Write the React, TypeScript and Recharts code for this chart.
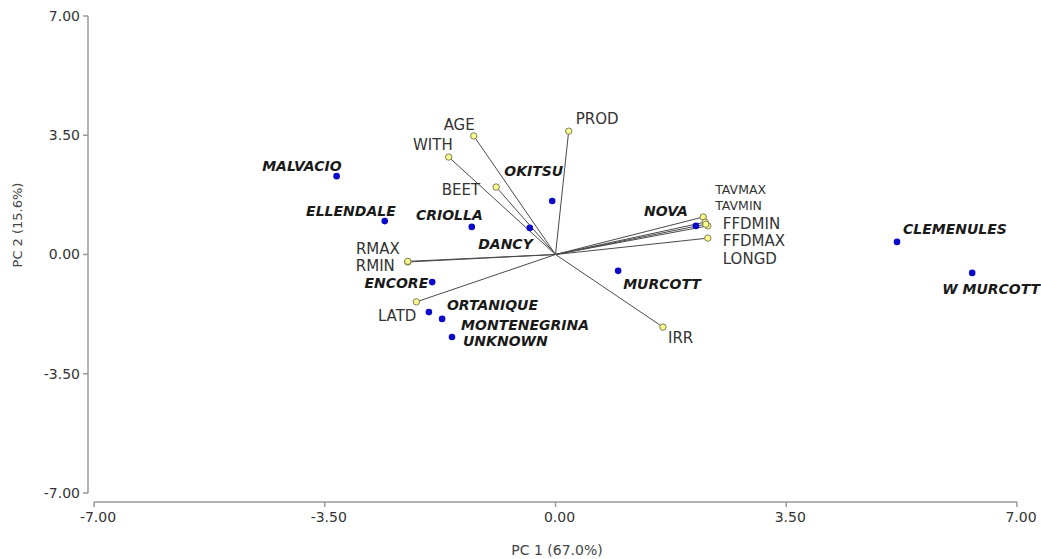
import React from 'react';
import { ScatterChart, Scatter, XAxis, YAxis, ReferenceLine } from 'recharts';

// cultivar scores
const cultivarNames = ['MALVACIO', 'ELLENDALE', 'CRIOLLA', 'DANCY', 'OKITSU', 'ENCORE', 'ORTANIQUE', 'MONTENEGRINA', 'UNKNOWN', 'NOVA', 'MURCOTT', 'CLEMENULES', 'W MURCOTT'];
const cultivarPC1 = [-3.32, -2.59, -1.27, -0.39, -0.05, -1.87, -1.92, -1.72, -1.57, 2.13, 0.95, 5.18, 6.32];
const cultivarPC2 = [2.3, 0.98, 0.81, 0.78, 1.57, -0.81, -1.69, -1.89, -2.42, 0.84, -0.48, 0.37, -0.54];

// variable loadings (vectors from origin)
const variableNames = ['AGE', 'WITH', 'BEET', 'PROD', 'RMAX', 'RMIN', 'LATD', 'IRR', 'TAVMAX', 'TAVMIN', 'FFDMIN', 'FFDMAX', 'LONGD'];
const variablePC1 = [-1.24, -1.62, -0.9, 0.2, -2.24, -2.24, -2.11, 1.63, 2.24, 2.27, 2.31, 2.28, 2.31];
const variablePC2 = [3.48, 2.86, 1.98, 3.62, -0.22, -0.2, -1.39, -2.13, 1.1, 0.95, 0.84, 0.89, 0.48];

const axisTicks = [-7, -3.5, 0, 3.5, 7];
const axisMin = -7;
const axisMax = 7;

// chart layout
const W = 1041;
const H = 559;
const MARGIN = { top: 16, right: 24, bottom: 0, left: 0 };
const Y_AXIS_W = 88;
const X_AXIS_H = 57;
const PAD_X = 6;
const PAD_Y = 9;
const plotW = W - MARGIN.left - MARGIN.right - Y_AXIS_W;
const plotH = H - MARGIN.top - MARGIN.bottom - X_AXIS_H;
// values where the (offset) axis lines sit
const yAxisLineX = axisMin - PAD_X * (axisMax - axisMin) / (plotW - PAD_X);
const xAxisLineY = axisMin - PAD_Y * (axisMax - axisMin) / (plotH - PAD_Y);

const FONT = '"DejaVu Sans", sans-serif';
const AXIS_COLOR = '#9a9a9a';

// label offsets [dx, dy, anchor, fontSize]
const labelPos: Record<string, [number, number, string, number?]> = {
  AGE: [1, -11, 'end'],
  WITH: [4, -12, 'end'],
  BEET: [-16, 3, 'end'],
  PROD: [7, -12, 'start'],
  RMAX: [-8, -13, 'end'],
  RMIN: [-13, 5, 'end'],
  LATD: [0, 14, 'end'],
  IRR: [5, 11, 'start'],
  TAVMAX: [12, -28, 'start', 12.5],
  TAVMIN: [10, -17, 'start', 12.5],
  FFDMIN: [15, -2, 'start'],
  FFDMAX: [17, 16.5, 'start'],
  LONGD: [15, 21, 'start'],
  MALVACIO: [5, -10.5, 'end'],
  ELLENDALE: [11, -10, 'end'],
  CRIOLLA: [11, -12, 'end'],
  DANCY: [3, 16.5, 'end'],
  OKITSU: [11, -30, 'end'],
  ENCORE: [-4, 0.5, 'end'],
  ORTANIQUE: [18, -7, 'start'],
  MONTENEGRINA: [19, 6, 'start'],
  UNKNOWN: [11, 4, 'start'],
  NOVA: [-8, -15, 'end'],
  MURCOTT: [5, 13.5, 'start'],
  CLEMENULES: [6, -13, 'start'],
  'W MURCOTT': [-30, 16, 'start'],
};

const cultivarData = cultivarNames.map((name, i) => ({ name, x: cultivarPC1[i], y: cultivarPC2[i] }));
const vectorData = variableNames.map((name, i) => [
  { name: '', x: 0, y: 0, origin: true },
  { name, x: variablePC1[i], y: variablePC2[i], origin: false },
]);

const CultivarDot = (props: any) => {
  const { cx, cy, payload } = props;
  const [dx, dy, anchor] = labelPos[payload.name] || [6, 0, 'start'];
  return (
    <g>
      <circle cx={cx} cy={cy} r={3.3} fill="#0a0ac8" />
      <text
        x={cx + dx}
        y={cy + dy}
        textAnchor={anchor}
        dominantBaseline="central"
        fontSize={14}
        fontWeight="bold"
        fontStyle="italic"
        fontFamily={FONT}
        fill="#1a1a1a"
      >
        {payload.name}
      </text>
    </g>
  );
};

const VectorTip = (props: any) => {
  const { cx, cy, payload } = props;
  if (payload.origin) return <g />;
  const [dx, dy, anchor, size] = labelPos[payload.name] || [6, 0, 'start'];
  return (
    <g>
      <circle cx={cx} cy={cy} r={3.2} fill="#fbfb8c" stroke="#6e6e50" strokeWidth={0.9} />
      <text
        x={cx + dx}
        y={cy + dy}
        textAnchor={anchor}
        dominantBaseline="central"
        fontSize={size || 15}
        fontFamily={FONT}
        fill="#333"
      >
        {payload.name}
      </text>
    </g>
  );
};

export default function App() {
  return (
    <div style={{ position: 'absolute', left: 0, top: 0, background: '#fff' }}>
      <ScatterChart width={W} height={H} margin={MARGIN} style={{ fontFamily: FONT }}>
        <XAxis
          type="number"
          dataKey="x"
          domain={[axisMin, axisMax]}
          ticks={axisTicks}
          padding={{ left: PAD_X, right: 0 }}
          height={X_AXIS_H}
          axisLine={false}
          tickLine={{ stroke: AXIS_COLOR, strokeWidth: 1.5 }}
          tickSize={5}
          tickMargin={5}
          tick={{ fill: '#333', fontSize: 14, fontFamily: FONT, dx: 4 }}
          tickFormatter={(v: number) => v.toFixed(2)}
          label={() => (
            <text x={557} y={550} textAnchor="middle" dominantBaseline="central" fontSize={14} fontFamily={FONT} fill="#444">
              PC 1 (67.0%)
            </text>
          )}
        />
        <YAxis
          type="number"
          dataKey="y"
          domain={[axisMin, axisMax]}
          ticks={axisTicks}
          padding={{ top: 0, bottom: PAD_Y }}
          width={Y_AXIS_W}
          axisLine={false}
          tickLine={{ stroke: AXIS_COLOR, strokeWidth: 1.5 }}
          tickSize={5}
          tickMargin={3}
          tick={{ fill: '#333', fontSize: 14, fontFamily: FONT }}
          tickFormatter={(v: number) => v.toFixed(2)}
          label={() => (
            <text x={17} y={225} transform="rotate(-90 17 225)" textAnchor="middle" dominantBaseline="central" fontSize={13} fontFamily={FONT} fill="#444">
              PC 2 (15.6%)
            </text>
          )}
        />
        <ReferenceLine
          segment={[{ x: yAxisLineX, y: axisMin }, { x: yAxisLineX, y: axisMax }]}
          stroke={AXIS_COLOR}
          strokeWidth={1.5}
          ifOverflow="visible"
        />
        <ReferenceLine
          segment={[{ x: axisMin, y: xAxisLineY }, { x: axisMax, y: xAxisLineY }]}
          stroke={AXIS_COLOR}
          strokeWidth={1.5}
          ifOverflow="visible"
        />
        {vectorData.map((d, i) => (
          <Scatter
            key={variableNames[i]}
            data={d}
            line={{ stroke: '#4a4a4a', strokeWidth: 1 }}
            shape={VectorTip}
            isAnimationActive={false}
          />
        ))}
        <Scatter data={cultivarData} shape={CultivarDot} isAnimationActive={false} />
      </ScatterChart>
    </div>
  );
}
